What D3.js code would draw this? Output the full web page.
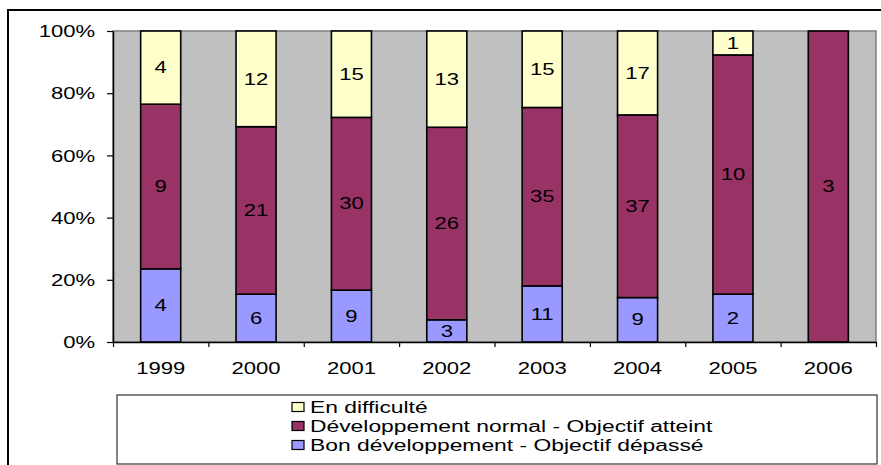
<!DOCTYPE html>
<html>
<head>
<meta charset="utf-8">
<script src="https://cdn.jsdelivr.net/npm/d3@7"></script>
<style>
body{margin:0;background:#fff;}
svg{display:block;font-family:"Liberation Sans",Arial,sans-serif;}
</style>
</head>
<body>
<svg id="c" width="881" height="465"></svg>
<script>
const years = ["1999","2000","2001","2002","2003","2004","2005","2006"];
const bon = [4,6,9,3,11,9,2,0];
const normal = [9,21,30,26,35,37,10,3];
const difficulte = [4,12,15,13,15,17,1,0];
const seriesNames = ["Bon développement - Objectif dépassé","Développement normal - Objectif atteint","En difficulté"];
const seriesColors = ["#9999FF","#993366","#FFFFCC"];
const yTicks = [0,0.2,0.4,0.6,0.8,1];

const SX = 1.38;
const svg = d3.select("#c");
const L=113, R=876, T=31, B=342;

// outer frame
svg.append("rect").attr("x",8).attr("y",10).attr("width",900).attr("height",500)
  .attr("fill","#fff").attr("stroke","#000").attr("stroke-width",2);

const x = d3.scaleBand().domain(years).range([L,R]).paddingInner(0.58).paddingOuter(0.29);
const y = d3.scaleLinear().domain([0,1]).range([B,T]);
const xb = d3.scaleLinear().domain([0,years.length]).range([L,R]);

// plot background
svg.append("rect").attr("x",L).attr("y",T).attr("width",R-L).attr("height",B-T)
  .attr("fill","#C0C0C0").attr("stroke","#808080").attr("stroke-width",1.5);

const rows = years.map((yr,i)=>({year:yr, v:[bon[i],normal[i],difficulte[i]]}));
const stack = d3.stack().keys([0,1,2]).value((d,k)=>d.v[k]).offset(d3.stackOffsetExpand);
const layers = stack(rows);

layers.forEach((layer,k)=>{
  layer.forEach((seg,i)=>{
    const val = rows[i].v[k];
    if(val===0) return;
    svg.append("rect")
      .attr("x",x(rows[i].year)).attr("width",x.bandwidth())
      .attr("y",y(seg[1])).attr("height",y(seg[0])-y(seg[1]))
      .attr("fill",seriesColors[k]).attr("stroke","#000").attr("stroke-width",1.6);
  });
});
layers.forEach((layer,k)=>{
  layer.forEach((seg,i)=>{
    const val = rows[i].v[k];
    if(val===0) return;
    const cx = x(rows[i].year)+x.bandwidth()/2;
    const cy = (y(seg[0])+y(seg[1]))/2;
    svg.append("text").attr("transform",`translate(${cx},${cy+5.7}) scale(${SX},1)`)
      .attr("text-anchor","middle").attr("font-size",16).attr("fill","#000").text(val);
  });
});

// y axis
const ya = svg.append("g").attr("transform",`translate(${L},0)`)
  .call(d3.axisLeft(y).tickValues(yTicks).tickFormat(d3.format(".0%")).tickSize(6).tickSizeOuter(0));
ya.select(".domain").attr("stroke","#000").attr("stroke-width",1.5);
ya.selectAll(".tick line").attr("stroke","#000").attr("stroke-width",1.2);
ya.selectAll(".tick text").attr("x",-13).attr("dy","0.36em").attr("font-size",16)
  .attr("font-family","Liberation Sans, Arial, sans-serif").attr("fill","#000")
  .attr("transform",`scale(${SX},1)`);

// x axis boundary ticks
const xa = svg.append("g").attr("transform",`translate(0,${B})`)
  .call(d3.axisBottom(xb).tickValues(d3.range(years.length+1)).tickFormat("").tickSize(5).tickSizeOuter(0));
xa.select(".domain").attr("stroke","#000").attr("stroke-width",1.5);
xa.selectAll(".tick line").attr("stroke","#000").attr("stroke-width",1.2);

// x labels
const xl = svg.append("g").attr("transform",`translate(0,${B})`)
  .call(d3.axisBottom(x).tickSize(0).tickPadding(21));
xl.select(".domain").remove();
xl.selectAll(".tick text").attr("font-size",16).attr("font-family","Liberation Sans, Arial, sans-serif")
  .attr("fill","#000").attr("transform",`scale(${SX},1)`);

// legend
svg.append("rect").attr("x",117).attr("y",395).attr("width",760).attr("height",69)
  .attr("fill","#fff").attr("stroke","#333").attr("stroke-width",1.2);
const legOrder = [2,1,0];
const legY = [407,426,445];
legOrder.forEach((k,j)=>{
  svg.append("rect").attr("x",292).attr("y",legY[j]-4.5).attr("width",12).attr("height",9)
    .attr("fill",seriesColors[k]).attr("stroke","#000").attr("stroke-width",1.2);
  svg.append("text").attr("transform",`translate(310,${legY[j]+5.8}) scale(1.41,1)`)
    .attr("font-size",16.2).attr("fill","#000").text(seriesNames[k]);
});
</script>
</body>
</html>
